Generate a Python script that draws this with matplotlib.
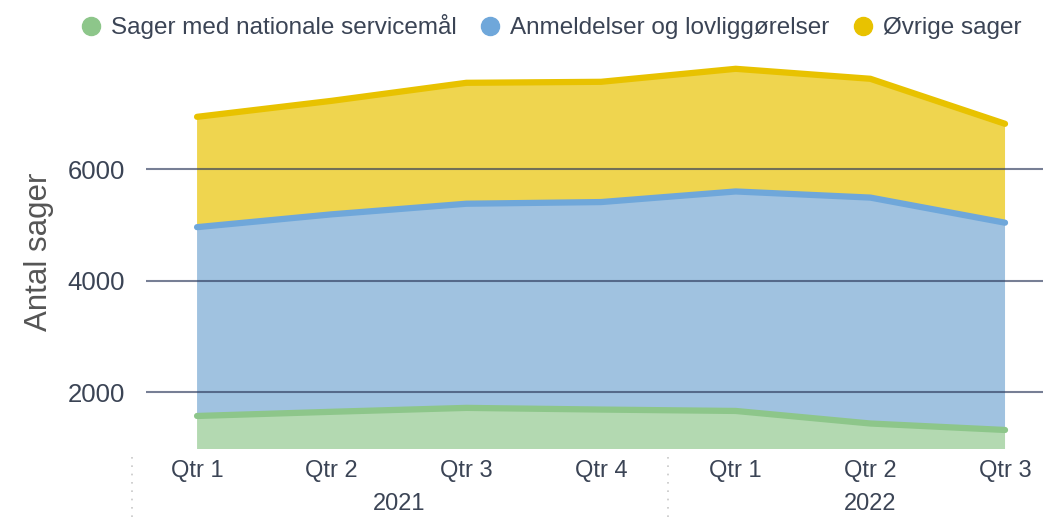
import numpy as np
import matplotlib.pyplot as plt

quarters = ['Qtr 1', 'Qtr 2', 'Qtr 3', 'Qtr 4', 'Qtr 1', 'Qtr 2', 'Qtr 3']
years = ['2021', '2022']
year_quarters = [4, 3]

series_names = ['Sager med nationale servicemål', 'Anmeldelser og lovliggørelser', 'Øvrige sager']
nationale = [1575, 1650, 1720, 1690, 1665, 1440, 1324]
anmeldelser = [3385, 3540, 3660, 3720, 3935, 4050, 3716]
oevrige = [1978, 2035, 2168, 2156, 2199, 2130, 1773]

fill_colors = ['#b3d9b1', '#a0c2e0', '#efd54f']
line_colors = ['#8dc68a', '#6fa7da', '#e8c200']
text_color = '#3b4455'

plt.rcParams['font.family'] = ['Liberation Sans', 'DejaVu Sans']

fig = plt.figure(figsize=(10.43, 5.17), dpi=100)
ax = fig.add_axes([0.14, 0.131, 0.86, 0.763])

x = np.arange(len(quarters))
data = np.array([nationale, anmeldelser, oevrige])
ax.stackplot(x, data, colors=fill_colors, zorder=1)
tops = np.cumsum(data, axis=0)
for top, c in zip(tops, line_colors):
    ax.plot(x, top, color=c, lw=4.5, solid_capstyle='round', zorder=3)

ax.set_ylim(978, 8050)
ax.set_xlim(-0.379, 6.282)
ax.set_yticks([2000, 4000, 6000])
for v in [2000, 4000, 6000]:
    ax.axhline(v, color='#2e3a5c', lw=1.5, alpha=0.65, zorder=2)
ax.tick_params(axis='y', length=0, pad=15, labelsize=18.5, labelcolor=text_color)
ax.set_xticks(x)
ax.set_xticklabels(quarters)
ax.tick_params(axis='x', length=0, pad=8, labelsize=17, labelcolor=text_color)
for s in ax.spines.values():
    s.set_visible(False)

ax.set_ylabel('Antal sager', fontsize=22.5, color='#555555', labelpad=10)

# year labels and separators
start = 0
for yr, n in zip(years, year_quarters):
    mid = start + (n - 1) / 2
    ax.text(mid, -0.14, yr, transform=ax.get_xaxis_transform(), ha='center', va='center',
            fontsize=17, color=text_color)
    start += n
for sep in [-0.48, 3.5]:
    ax.plot([sep, sep], [-0.02, -0.25], transform=ax.get_xaxis_transform(), clip_on=False,
            color='#c8c8c8', lw=1.2, ls=(0, (1, 4)))

# legend
handles = [plt.Line2D([], [], marker='o', ls='', markersize=13, color=c) for c in line_colors]
fig.legend(handles, series_names, loc='upper right', bbox_to_anchor=(1.0, 1.015), ncol=3,
           frameon=False, fontsize=17.5, handletextpad=-0.2, columnspacing=0.4,
           labelcolor=text_color)

fig.savefig('out.png', dpi=100)
